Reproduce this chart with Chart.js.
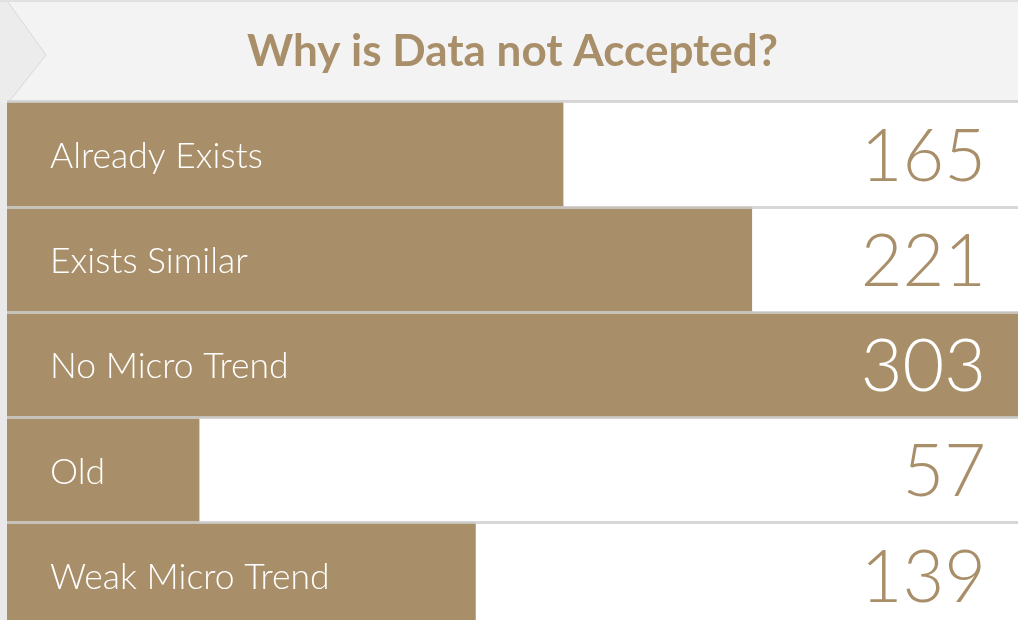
<!DOCTYPE html>
<html>
<head>
<meta charset="utf-8">
<script src="https://cdn.jsdelivr.net/npm/chart.js@4/dist/chart.umd.min.js"></script>
<style>
  html, body { margin: 0; padding: 0; background: #fff; overflow: hidden; }
  #wrap { width: 1018px; height: 628px; }
</style>
</head>
<body>
<div id="wrap"><canvas id="reasons" width="1018" height="628"></canvas></div>
<script>
// données
const categories = ['Already Exists', 'Exists Similar', 'No Micro Trend', 'Old', 'Weak Micro Trend'];
const counts = [165, 221, 303, 57, 139];
const axisMax = 300;

const gold = '#a98f69';

// fond gris de l'entête + petite flèche à gauche
const headerPlugin = {
    id: 'header',
    beforeDraw(chart) {
        const ctx = chart.ctx;
        const top = chart.chartArea.top;
        ctx.save();
        ctx.fillStyle = '#f3f3f3';
        ctx.fillRect(0, 0, chart.width, top);
        ctx.fillStyle = '#e0e0e0';
        ctx.fillRect(0, 0, chart.width, 2);
        // bande grise à gauche
        ctx.fillStyle = '#e9e9e9';
        ctx.fillRect(0, top, chart.chartArea.left, chart.height - top);
        // chevron
        ctx.beginPath();
        ctx.moveTo(0, 2);
        ctx.lineTo(8, 2);
        ctx.lineTo(46, 55);
        ctx.lineTo(9, top);
        ctx.lineTo(0, top);
        ctx.closePath();
        ctx.fillStyle = '#ececec';
        ctx.fill();
        ctx.beginPath();
        ctx.moveTo(8, 2);
        ctx.lineTo(46, 55);
        ctx.lineTo(9, top);
        ctx.strokeStyle = '#d9d9d9';
        ctx.lineWidth = 1;
        ctx.stroke();
        ctx.restore();
    }
};

// étiquettes dans les barres + valeurs à droite
const labelPlugin = {
    id: 'rowLabels',
    afterDraw(chart) {
        const ctx = chart.ctx;
        const meta = chart.getDatasetMeta(0);
        const xScale = chart.scales.x;
        ctx.save();
        meta.data.forEach((bar, i) => {
            const y = bar.y;
            ctx.textBaseline = 'middle';
            ctx.textAlign = 'left';
            ctx.fillStyle = '#ffffff';
            ctx.font = '300 35.5px Lato';
            ctx.fillText(categories[i], 50, y + 2);

            ctx.font = '300 72px Lato';
            ctx.textAlign = 'right';
            const txt = String(counts[i]);
            const w = ctx.measureText(txt).width;
            const barEnd = xScale.getPixelForValue(counts[i]);
            ctx.fillStyle = barEnd > 986 - w ? '#ffffff' : gold;
            ctx.fillText(txt, 986, y + 3);
        });
        ctx.restore();
    }
};

const ctx = document.getElementById('reasons').getContext('2d');
const chart = new Chart(ctx, {
    type: 'bar',
    data: {
        labels: categories,
        datasets: [{
            data: counts,
            backgroundColor: gold,
            borderWidth: 0,
            barPercentage: 1,
            categoryPercentage: 1
        }]
    },
    options: {
        indexAxis: 'y',
        responsive: false,
        animation: false,
        layout: { padding: { left: 7, right: 0, top: 0, bottom: 0 } },
        plugins: {
            legend: { display: false },
            tooltip: { enabled: false },
            title: {
                display: true,
                text: 'Why is Data not Accepted?',
                color: gold,
                font: { family: 'Lato', size: 44, weight: 'bold', lineHeight: 1.2 },
                padding: { top: 25, bottom: 24 }
            }
        },
        scales: {
            x: {
                display: false,
                min: 0,
                max: axisMax
            },
            y: {
                display: true,
                offset: true,
                ticks: { display: false },
                border: { display: false },
                grid: {
                    offset: true,
                    drawTicks: false,
                    color: 'rgba(205, 205, 205, 0.8)',
                    lineWidth: 3,
                    z: 1
                },
                afterFit(scale) { scale.width = 0; }
            }
        }
    },
    plugins: [headerPlugin, labelPlugin]
});
</script>
</body>
</html>
